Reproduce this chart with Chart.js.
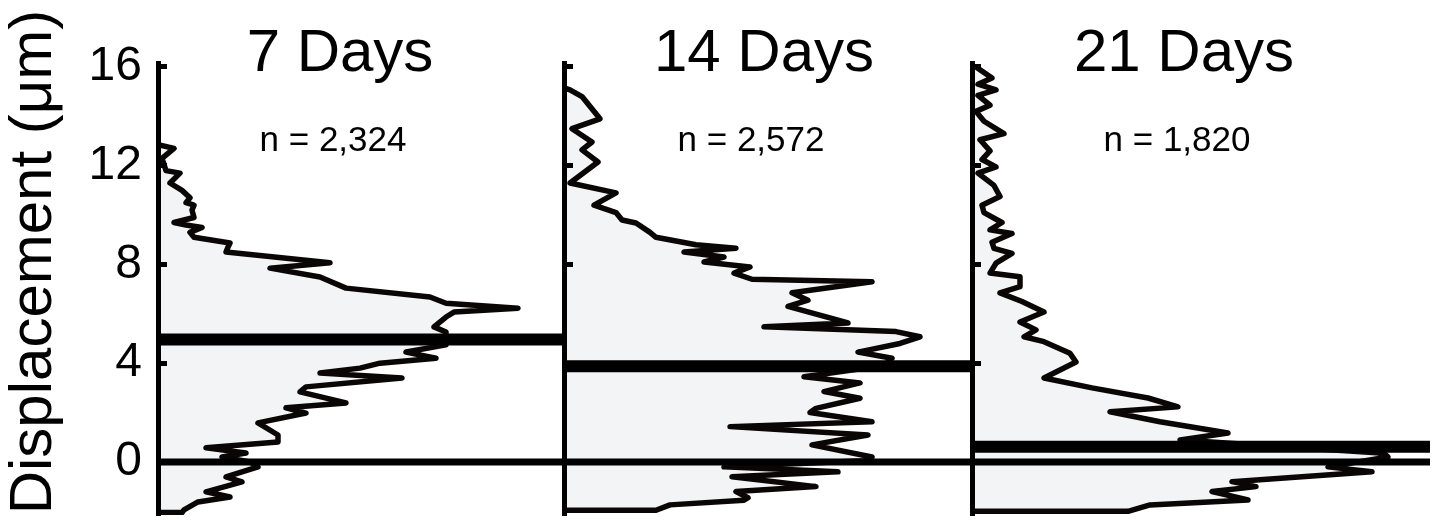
<!DOCTYPE html>
<html>
<head>
<meta charset="utf-8">
<script src="https://cdn.jsdelivr.net/npm/chart.js@4.4.1/dist/chart.umd.min.js"></script>
<style>
  body { margin: 0; background: #fff; }
  #wrap { position: relative; width: 1437px; height: 520px; }
  #wrap canvas { position: absolute; left: 0; top: 0; }
</style>
</head>
<body>
<div id="wrap">
  <canvas id="p0" width="1437" height="520"></canvas>
  <canvas id="p1" width="1437" height="520"></canvas>
  <canvas id="p2" width="1437" height="520"></canvas>
</div>
<script>
// panel labels
const panelTitles = ['7 Days', '14 Days', '21 Days'];
const cellCounts = ['n = 2,324', 'n = 2,572', 'n = 1,820'];
const yTicks = [0, 4, 8, 12, 16];
const yTitle = 'Displacement (\u03bcm)';

// median displacement for each time point (um)
const medians = [4.96, 3.88, 0.61];

// displacement bins (um) and relative frequency (a.u.)
const disp7 = [-2.05, -2.05, -1.94, -1.62, -1.42, -1.21, -0.81, -0.61, -0.2, 0.0, 0.2, 0.36, 0.57, 0.81, 1.09,
  1.58, 1.98, 2.19, 2.39, 2.84, 3.04, 3.4, 3.6, 3.8, 4.0, 4.2, 4.45, 4.74, 5.26, 5.47, 5.87, 6.07, 6.23, 6.43,
  6.68, 7.04, 7.49, 7.85, 8.07, 8.5, 8.7, 8.87, 9.1, 9.3, 9.5, 9.6, 9.7, 9.9, 10.2, 10.4, 10.5, 10.7, 11.0,
  11.3, 11.7, 11.8, 12.3, 12.7, 12.85];
const freq7 = [0, 6, 6.5, 10, 18, 12, 21, 17, 25, 23, 16, 22, 12, 30, 30,
  25, 37, 32, 47, 35.5, 37, 61, 40.5, 50.5, 55.5, 69.5, 62, 72, 72, 69, 72, 74, 90, 72,
  68, 47, 40.5, 28, 43, 17, 17.5, 18, 9, 8, 11, 7, 4, 9, 8.5, 9, 7, 8, 6,
  3, 5.5, 2, 1, 4, 0];

const disp14 = [-1.96, -1.96, -1.74, -1.55, -1.45, -1.2, -1.0, -0.6, -0.4, -0.2, 0.05, 0.2, 0.69, 1.09, 1.43,
  1.63, 2.0, 2.17, 2.58, 2.85, 3.2, 3.45, 3.9, 4.2, 4.45, 4.8, 5.07, 5.28, 5.48, 5.63, 6.3, 6.55, 6.85, 7.3,
  7.4, 7.65, 7.9, 8.1, 8.3, 8.5, 8.66, 8.8, 9.1, 9.3, 9.68, 9.8, 10.1, 10.4, 10.9, 11.3, 12.15, 12.64, 12.96,
  13.5, 13.9, 14.8, 15.07, 15.15];
const freq14 = [0, 23, 26.5, 45, 46, 43, 63, 42, 68.5, 40, 75, 77, 62, 76, 41.5,
  77, 61.5, 63, 74, 65, 74, 60, 80, 82, 73.5, 84, 89, 83, 50, 71, 56, 61, 57, 77,
  47, 42.5, 46.5, 35, 40, 30, 43, 33, 23, 21.5, 18, 14.5, 13, 7.5, 13, 1.5, 8.5, 4.5, 7,
  2, 9, 4.5, 1.5, 0];

const disp21 = [-2.0, -2.0, -1.74, -1.54, -1.2, -1.0, -0.8, -0.4, -0.2, 0.2, 0.35, 0.89, 1.17, 1.63, 2.03,
  2.23, 2.59, 3.0, 3.4, 4.05, 4.4, 4.87, 5.07, 5.35, 5.67, 6.07, 6.5, 6.85, 7.1, 7.5, 7.65, 8.05, 8.45, 8.65,
  8.9, 9.25, 9.4, 9.7, 10.1, 10.4, 10.75, 11.2, 11.7, 11.95, 12.25, 12.6, 13.05, 13.3, 13.8, 14.2, 14.45,
  14.85, 15.07, 15.3, 15.55, 16.0];
const freq21 = [0, 39, 44.5, 69, 60, 71, 65, 100, 89, 104, 103, 52, 64, 47, 34.5,
  51.5, 44, 30, 18, 26, 24.5, 18, 13, 16, 12, 18, 12.5, 7, 12, 12, 4.5, 6, 10, 5.5,
  5, 10, 4.5, 7.5, 3, 2.5, 7, 5.5, 1.5, 6, 2.5, 4.5, 2, 8, 3, 1, 4.5,
  1.5, 6, 1.5, 5, 1];

const dispAll = [disp7, disp14, disp21];
const freqAll = [freq7, freq14, freq21];

const FONT = "'Liberation Sans', Arial, Helvetica, sans-serif";

// where each panel sits on the shared 1437x520 page
const panelLayout = [
  { padL: 0,   yW: 158, padR: 874, xMax: 101.25, titleX: 340,  nX: 333 },
  { padL: 554, yW: 10,  padR: 465, xMax: 102,    titleX: 764,  nX: 751 },
  { padL: 962, yW: 10,  padR: 7,   xMax: 114.5,  titleX: 1184, nX: 1177 }
];

const panelText = {
  id: 'panelText',
  afterDraw(chart, args, opts) {
    const ctx = chart.ctx;
    ctx.save();
    ctx.fillStyle = '#000';
    ctx.textAlign = 'center';
    ctx.textBaseline = 'middle';
    ctx.font = '60px ' + FONT;
    ctx.fillText(opts.title, opts.titleX, 54);
    ctx.font = '35px ' + FONT;
    ctx.fillText(opts.n, opts.nX, 141);
    if (opts.yTitle) {
      ctx.translate(34, 262);
      ctx.rotate(-Math.PI / 2);
      ctx.font = '60px ' + FONT;
      ctx.fillText(opts.yTitle, 0, 0);
    }
    ctx.restore();
  }
};

panelLayout.forEach((lay, i) => {
  const curve = dispAll[i].map((d, k) => ({ x: freqAll[i][k], y: d }));
  new Chart(document.getElementById('p' + i), {
    type: 'line',
    data: {
      datasets: [
        {
          data: [{ x: 0, y: medians[i] }, { x: lay.xMax, y: medians[i] }],
          borderColor: '#000', borderWidth: 12, fill: false
        },
        {
          data: [{ x: 0, y: 0 }, { x: lay.xMax, y: 0 }],
          borderColor: '#000', borderWidth: 7, fill: false
        },
        {
          data: curve,
          borderColor: '#0b0606', borderWidth: 5.5,
          backgroundColor: '#f3f4f6', fill: 'origin',
          borderJoinStyle: 'round', borderCapStyle: 'round'
        }
      ]
    },
    options: {
      indexAxis: 'y',
      responsive: false,
      animation: false,
      devicePixelRatio: 1,
      layout: {
        autoPadding: false,
        padding: { left: lay.padL, right: lay.padR, top: 63, bottom: 5 }
      },
      elements: { point: { radius: 0 }, line: { tension: 0 } },
      scales: {
        x: { type: 'linear', display: false, min: 0, max: lay.xMax },
        y: {
          type: 'linear',
          min: -2.15,
          max: 16.16,
          afterBuildTicks: s => { s.ticks = yTicks.map(v => ({ value: v })); },
          // fixed axis width, and no extra room for the big tick labels
          afterFit: s => { s.width = lay.yW; s.paddingTop = 0; s.paddingBottom = 0; },
          border: { display: true, width: 5, color: '#000', z: 1 },
          grid: {
            display: true, drawOnChartArea: false, drawTicks: true,
            tickLength: -9, tickWidth: 5, tickColor: '#000', z: 1
          },
          ticks: {
            display: i === 0, autoSkip: false, padding: 25, color: '#000',
            font: { family: FONT, size: 48 }
          }
        }
      },
      plugins: {
        legend: { display: false },
        tooltip: { enabled: false },
        panelText: {
          title: panelTitles[i], n: cellCounts[i],
          titleX: lay.titleX, nX: lay.nX,
          yTitle: i === 0 ? yTitle : null
        }
      }
    },
    plugins: [panelText]
  });
});
</script>
</body>
</html>
